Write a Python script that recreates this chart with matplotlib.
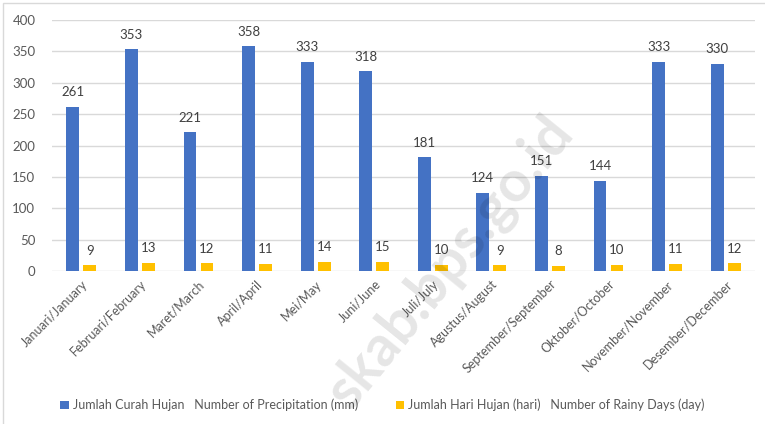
import numpy as np
import matplotlib.pyplot as plt
from matplotlib.patches import Rectangle

months = ['Januari/January', 'Februari/February', 'Maret/March', 'April/April',
          'Mei/May', 'Juni/June', 'Juli/July', 'Agustus/August',
          'September/September', 'Oktober/October', 'November/November',
          'Desember/December']
curah_hujan = [261, 353, 221, 358, 333, 318, 181, 124, 151, 144, 333, 330]
hari_hujan = [9, 13, 12, 11, 14, 15, 10, 9, 8, 10, 11, 12]

plt.rcParams['font.family'] = ['Lato', 'DejaVu Sans']

fig = plt.figure(figsize=(7.65, 4.24), dpi=100)
ax = fig.add_axes([52/765, 1 - 271/424, 703/765, 251/424])

x = np.arange(len(months))
w = 0.22
b1 = ax.bar(x - 0.145, curah_hujan, w, color='#4472C4', zorder=3, label='Jumlah Curah Hujan   Number of Precipitation (mm)')
b2 = ax.bar(x + 0.145, hari_hujan, w, color='#FFC000', zorder=3, label='Jumlah Hari Hujan (hari)   Number of Rainy Days (day)')

for r, v in zip(b1, curah_hujan):
    ax.text(r.get_x() + r.get_width()/2, v + 14, str(v), ha='center', va='bottom',
            fontsize=9.5, color='#404040')
for r, v in zip(b2, hari_hujan):
    ax.text(r.get_x() + r.get_width()/2, v + 14, str(v), ha='center', va='bottom',
            fontsize=9.5, color='#404040')

ax.set_xlim(-0.5, len(months) - 0.5)
ax.set_ylim(0, 400)
ax.set_yticks(range(0, 401, 50))
ax.yaxis.grid(True, color='#D9D9D9', linewidth=1, zorder=0)
ax.set_axisbelow(True)
for s in ax.spines.values():
    s.set_visible(False)
ax.tick_params(axis='both', length=0, colors='#595959', labelsize=9.5)
ax.tick_params(axis='y', pad=12)
ax.tick_params(axis='x', pad=5)
ax.set_xticks(x)
ax.set_xticklabels(months, rotation=45, ha='right', rotation_mode='anchor', fontsize=9)

ax.legend(loc='center', bbox_to_anchor=(0.5, 1 - 405/424), bbox_transform=fig.transFigure,
          ncol=2, frameon=False, fontsize=9, labelcolor='#595959',
          handlelength=0.7, handleheight=0.7, handletextpad=0.3, columnspacing=3)

# watermark
fig.text(450/765, 1 - 262/424, 'skab.bps.go.id', rotation=51, ha='center', va='center',
         fontsize=41, fontweight='bold', color='black', alpha=0.1, zorder=10)

# chart border
fig.patches.append(Rectangle((3/765, -0.1), 1.2, 1 - 3/424 + 0.1, transform=fig.transFigure,
                             fill=False, edgecolor='#D9D9D9', linewidth=1))

fig.savefig('out.png', dpi=100)
